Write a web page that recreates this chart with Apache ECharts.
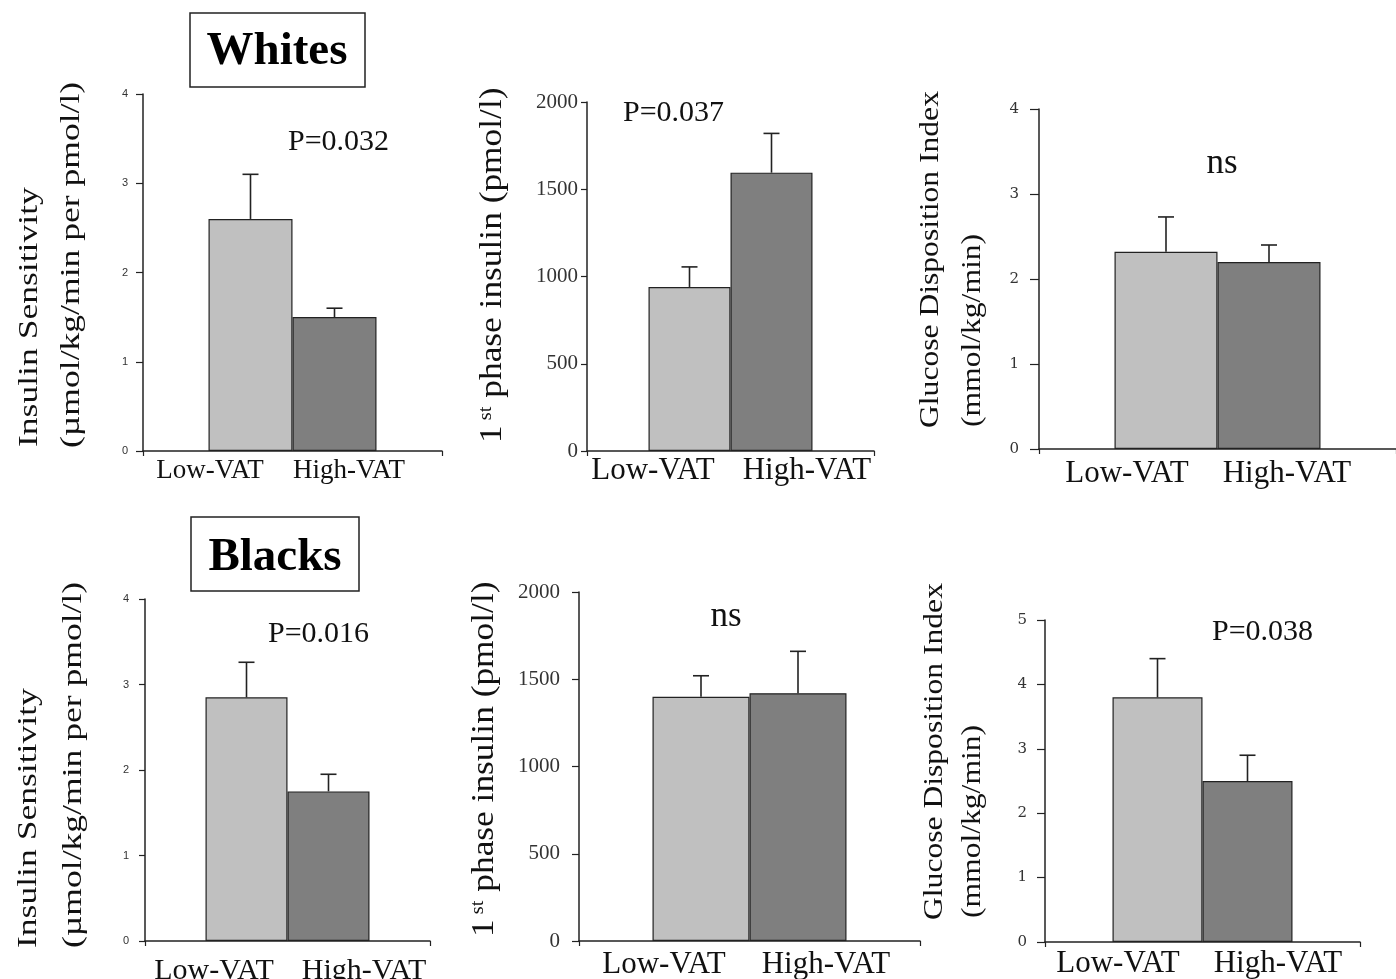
<!DOCTYPE html>
<html>
<head>
<meta charset="utf-8">
<script src="https://cdn.jsdelivr.net/npm/echarts@6/dist/echarts.min.js"></script>
<style>
html,body{margin:0;padding:0;background:#fff;}
#chart{width:1396px;height:979px;}
</style>
</head>
<body>
<div id="chart"></div>
<script>
// ---------- data ----------
const categories = ['Low-VAT', 'High-VAT'];

// Whites
const whitesSensitivity = [2.60, 1.50];
const whitesSensitivitySEM = [0.50, 0.10];
const whitesFirstPhase = [940, 1595];
const whitesFirstPhaseSEM = [115, 225];
const whitesGDI = [2.32, 2.20];
const whitesGDISEM = [0.41, 0.20];

// Blacks
const blacksSensitivity = [2.85, 1.75];
const blacksSensitivitySEM = [0.41, 0.20];
const blacksFirstPhase = [1400, 1420];
const blacksFirstPhaseSEM = [120, 240];
const blacksGDI = [3.80, 2.50];
const blacksGDISEM = [0.60, 0.40];

// axis scales
const sensitivityTicks = {max: 4, interval: 1};
const firstPhaseTicks = {max: 2000, interval: 500};
const gdiWhitesTicks = {max: 4, interval: 1};
const gdiBlacksTicks = {max: 5, interval: 1};

const pLabels = ['P=0.032', 'P=0.037', 'ns', 'P=0.016', 'ns', 'P=0.038'];
const groupTitles = ['Whites', 'Blacks'];
const titleSensitivity = ['Insulin Sensitivity', '(µmol/kg/min per pmol/l)'];
const titleGDI = ['Glucose Disposition Index', '(mmol/kg/min)'];
const titleFirstPhase = ['1', 'st', ' phase insulin (pmol/l)'];

// ---------- layout / style ----------
const SERIF = 'Liberation Serif';
const SANS = 'Liberation Sans';
const LOW_COLOR = '#c0c0c0';
const HIGH_COLOR = '#7f7f7f';
const INK = '#222';

const panels = [
  {mean: whitesSensitivity, sem: whitesSensitivitySEM, ticks: sensitivityTicks,
   left: 143, top: 94, w: 299, h: 357, bw: 84, centers: [210, 349], catFont: 27, catMargin: 6,
   tick: {font: SANS, size: 11, margin: 15, len: 7},
   p: {x: 288, y: 142, align: 'left', size: 30}},
  {mean: whitesFirstPhase, sem: whitesFirstPhaseSEM, ticks: firstPhaseTicks,
   left: 587, top: 102, w: 287, h: 349, bw: 82, centers: [653, 807], catFont: 31, catMargin: 4,
   tick: {font: SERIF, size: 21, margin: 9, len: 6},
   p: {x: 623, y: 113, align: 'left', size: 30}},
  {mean: whitesGDI, sem: whitesGDISEM, ticks: gdiWhitesTicks,
   left: 1039, top: 109, w: 360, h: 340, bw: 103, centers: [1127, 1287], catFont: 31, catMargin: 9,
   tick: {font: 'DejaVu Serif', size: 15, margin: 20, len: 9},
   p: {x: 1222, y: 164, align: 'center', size: 35}},
  {mean: blacksSensitivity, sem: blacksSensitivitySEM, ticks: sensitivityTicks,
   left: 145, top: 599, w: 285, h: 342, bw: 82, centers: [214, 364], catFont: 30, catMargin: 16,
   tick: {font: SANS, size: 11, margin: 16, len: 6},
   p: {x: 268, y: 634, align: 'left', size: 30}},
  {mean: blacksFirstPhase, sem: blacksFirstPhaseSEM, ticks: firstPhaseTicks,
   left: 579, top: 592, w: 341, h: 349, bw: 97, centers: [664, 826], catFont: 31, catMargin: 9,
   tick: {font: SERIF, size: 21, margin: 19, len: 7},
   p: {x: 726, y: 617, align: 'center', size: 35}},
  {mean: blacksGDI, sem: blacksGDISEM, ticks: gdiBlacksTicks,
   left: 1045, top: 620, w: 315, h: 322, bw: 90, centers: [1118, 1278], catFont: 31, catMargin: 6,
   tick: {font: 'DejaVu Serif', size: 15, margin: 18, len: 8},
   p: {x: 1212, y: 632, align: 'left', size: 30}}
];

const yTitles = [
  {text: titleSensitivity[0], x: 29.5, y: 447, size: 28, sx: 1.27},
  {text: titleSensitivity[1], x: 71.5, y: 448, size: 28, sx: 1.27},
  {rich: true, x: 493, y: 443, size: 31, sx: 1.14},
  {text: titleGDI[0], x: 930.5, y: 428, size: 27, sx: 1.17},
  {text: titleGDI[1], x: 973, y: 427, size: 27, sx: 1.17},
  {text: titleSensitivity[0], x: 28.5, y: 948, size: 28, sx: 1.27},
  {text: titleSensitivity[1], x: 73.5, y: 948, size: 28, sx: 1.27},
  {rich: true, x: 484.5, y: 937, size: 31, sx: 1.14},
  {text: titleGDI[0], x: 934.5, y: 920, size: 27, sx: 1.17},
  {text: titleGDI[1], x: 972.5, y: 918, size: 27, sx: 1.17}
];

const boxes = [
  {text: groupTitles[0], x: 190, y: 13, w: 175, h: 74, tx: 277, ty: 52},
  {text: groupTitles[1], x: 191, y: 517, w: 168, h: 74, tx: 275, ty: 558}
];

// ---------- build option ----------
const grid = [], xAxis = [], yAxis = [], series = [], graphic = [];

panels.forEach((pn, i) => {
  const gMain = 2 * i, gLab = 2 * i + 1;
  grid.push({left: pn.left, top: pn.top, width: pn.w, height: pn.h, containLabel: false});
  const bandW = pn.centers[1] - pn.centers[0];
  grid.push({left: pn.centers[0] - bandW / 2, top: pn.top + pn.h - 1, width: 2 * bandW, height: 1});

  xAxis.push({
    type: 'category', gridIndex: gMain, data: ['group'],
    axisLine: {show: true, lineStyle: {color: INK, width: 1.5}},
    axisTick: {show: true, length: 5, lineStyle: {color: INK, width: 1.2}},
    axisLabel: {show: false}, splitLine: {show: false}
  });
  xAxis.push({
    type: 'category', gridIndex: gLab, data: categories, position: 'bottom',
    axisLine: {show: false}, axisTick: {show: false}, splitLine: {show: false},
    axisLabel: {show: true, interval: 0, margin: pn.catMargin, color: '#111',
      fontFamily: SERIF, fontSize: pn.catFont}
  });
  yAxis.push({
    type: 'value', gridIndex: gMain, min: 0, max: pn.ticks.max, interval: pn.ticks.interval,
    axisLine: {show: true, lineStyle: {color: INK, width: 1.5}},
    axisTick: {show: true, length: pn.tick.len, lineStyle: {color: INK, width: 1.2}},
    splitLine: {show: false},
    axisLabel: {color: '#333', fontFamily: pn.tick.font, fontSize: pn.tick.size, margin: pn.tick.margin,
      formatter: v => String(v)}
  });
  yAxis.push({type: 'value', gridIndex: gLab, show: false});

  [0, 1].forEach(k => {
    series.push({
      type: 'bar', xAxisIndex: gMain, yAxisIndex: gMain,
      data: [pn.mean[k]], barWidth: pn.bw, barGap: '0%',
      itemStyle: {color: k === 0 ? LOW_COLOR : HIGH_COLOR, borderColor: INK, borderWidth: 1.2},
      silent: true, z: 2
    });
  });
  const bw = pn.bw;
  series.push({
    type: 'custom', xAxisIndex: gMain, yAxisIndex: gMain, z: 3, silent: true,
    data: [0, 1].map(k => [0, pn.mean[k], pn.mean[k] + pn.sem[k]]),
    encode: {x: 0, y: [1, 2]},
    renderItem(params, api) {
      const base = api.coord([api.value(0), api.value(1)]);
      const top = api.coord([api.value(0), api.value(2)]);
      const x = base[0] + (params.dataIndex - 0.5) * bw;
      const st = {stroke: INK, lineWidth: 1.6};
      return {type: 'group', children: [
        {type: 'line', shape: {x1: x, y1: base[1], x2: x, y2: top[1]}, style: st},
        {type: 'line', shape: {x1: x - 8, y1: top[1], x2: x + 8, y2: top[1]}, style: st}
      ]};
    }
  });

  graphic.push({
    type: 'text', x: pn.p.x, y: pn.p.y, silent: true,
    style: {text: pLabels[i], fontFamily: SERIF, fontSize: pn.p.size, fill: '#111',
      align: pn.p.align, verticalAlign: 'middle'}
  });
});

yTitles.forEach(t => {
  const style = t.rich ? {
    text: '{a|' + titleFirstPhase[0] + '}{b| ' + titleFirstPhase[1] + '}{a|' + titleFirstPhase[2] + '}',
    rich: {
      a: {fontFamily: SERIF, fontSize: t.size, fill: '#111', lineHeight: t.size},
      b: {fontFamily: SERIF, fontSize: Math.round(t.size * 0.58), fill: '#111', verticalAlign: 'top',
        padding: [0, 0, 4, 0]}
    }
  } : {text: t.text, fontFamily: SERIF, fontSize: t.size, fill: '#111'};
  style.align = 'left';
  style.verticalAlign = 'middle';
  graphic.push({type: 'text', x: t.x, y: t.y, rotation: Math.PI / 2, scaleX: t.sx, silent: true, style});
});

boxes.forEach(b => {
  graphic.push({type: 'rect', shape: {x: b.x, y: b.y, width: b.w, height: b.h}, silent: true,
    style: {fill: '#fff', stroke: INK, lineWidth: 1.5}});
  graphic.push({type: 'text', x: b.tx, y: b.ty, silent: true,
    style: {text: b.text, fontFamily: SERIF, fontWeight: 'bold', fontSize: 47, fill: '#000',
      align: 'center', verticalAlign: 'middle'}});
});

const chart = echarts.init(document.getElementById('chart'), null, {renderer: 'canvas'});
chart.setOption({
  backgroundColor: '#fff',
  animation: false,
  grid, xAxis, yAxis, series, graphic
});
</script>
</body>
</html>
